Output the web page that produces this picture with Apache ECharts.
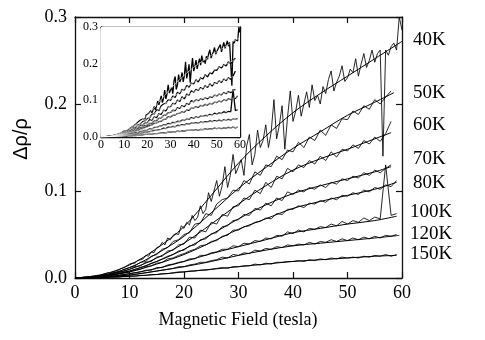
<!DOCTYPE html>
<html>
<head>
<meta charset="utf-8">
<script src="https://cdn.jsdelivr.net/npm/echarts@6/dist/echarts.min.js"></script>
<style>
    html, body { margin: 0; padding: 0; background: #fff; }
    #main { width: 485px; height: 340px; }
</style>
</head>
<body>
<div id="main"></div>
<script>
// temperatures, one curve each
var temps = ["40K", "50K", "60K", "70K", "80K", "100K", "120K", "150K"];

// measured data: 40K every 0.5 T, others every 1 T, starting at 0 T
var step40 = 0.5;
var step = 1;
var data40 = [0, 0.000, 0.000, 0.001, 0.001, 0.001, 0.002, 0.002, 0.003, 0.003, 0.004,
    0.005, 0.006, 0.006, 0.007, 0.008, 0.009, 0.011, 0.012, 0.014, 0.016,
    0.017, 0.017, 0.020, 0.021, 0.022, 0.026, 0.025, 0.030, 0.029, 0.035,
    0.036, 0.041, 0.038, 0.046, 0.044, 0.049, 0.051, 0.050, 0.060, 0.057,
    0.064, 0.061, 0.072, 0.066, 0.070, 0.083, 0.074, 0.079, 0.098, 0.088,
    0.100, 0.112, 0.094, 0.106, 0.128, 0.104, 0.118, 0.142, 0.120, 0.128,
    0.136, 0.118, 0.152, 0.165, 0.130, 0.142, 0.170, 0.150, 0.158, 0.176,
    0.150, 0.168, 0.205, 0.160, 0.176, 0.198, 0.148, 0.185, 0.215, 0.180,
    0.192, 0.210, 0.186, 0.200, 0.214, 0.196, 0.222, 0.204, 0.210, 0.200,
    0.220, 0.212, 0.228, 0.238, 0.215, 0.225, 0.232, 0.244, 0.226, 0.230,
    0.240, 0.236, 0.252, 0.232, 0.246, 0.258, 0.242, 0.250, 0.262, 0.248,
    0.258, 0.262, 0.140, 0.262, 0.256, 0.266, 0.270, 0.262, 0.300, 0.285];
var data50 = [0, 0.000, 0.000, 0.001, 0.002, 0.003, 0.004, 0.006, 0.007, 0.010,
    0.012, 0.014, 0.018, 0.019, 0.025, 0.027, 0.033, 0.035, 0.042, 0.044,
    0.050, 0.052, 0.062, 0.063, 0.074, 0.072, 0.085, 0.090, 0.092, 0.101,
    0.100, 0.112, 0.108, 0.122, 0.118, 0.130, 0.128, 0.140, 0.136, 0.147,
    0.145, 0.156, 0.150, 0.162, 0.158, 0.170, 0.164, 0.176, 0.172, 0.183,
    0.182, 0.192, 0.188, 0.198, 0.194, 0.205, 0.200, 0.208, 0.215];
var data60 = [0, 0, 0.000, 0.001, 0.002, 0.003, 0.004, 0.005, 0.006, 0.008,
    0.010, 0.013, 0.014, 0.018, 0.019, 0.024, 0.025, 0.031, 0.032, 0.038,
    0.039, 0.047, 0.046, 0.055, 0.053, 0.064, 0.062, 0.073, 0.071, 0.082,
    0.083, 0.092, 0.090, 0.101, 0.097, 0.110, 0.104, 0.117, 0.114, 0.126,
    0.122, 0.130, 0.127, 0.135, 0.131, 0.140, 0.135, 0.145, 0.139, 0.148,
    0.146, 0.153, 0.149, 0.158, 0.154, 0.162, 0.157, 0.166, 0.180];
var data70 = [0, 0, 0.000, 0.001, 0.001, 0.002, 0.003, 0.004, 0.005, 0.007,
    0.008, 0.010, 0.012, 0.014, 0.017, 0.019, 0.022, 0.025, 0.027, 0.031,
    0.032, 0.037, 0.038, 0.044, 0.045, 0.051, 0.052, 0.059, 0.060, 0.066,
    0.067, 0.073, 0.072, 0.080, 0.078, 0.086, 0.083, 0.092, 0.089, 0.099,
    0.096, 0.101, 0.099, 0.104, 0.102, 0.107, 0.104, 0.110, 0.108, 0.114,
    0.112, 0.117, 0.115, 0.121, 0.118, 0.124, 0.121, 0.126, 0.130];
var data80 = [0, 0, 0.000, 0.001, 0.001, 0.002, 0.002, 0.003, 0.005, 0.006,
    0.007, 0.009, 0.010, 0.013, 0.014, 0.017, 0.018, 0.022, 0.023, 0.026,
    0.028, 0.031, 0.033, 0.037, 0.038, 0.042, 0.043, 0.048, 0.049, 0.055,
    0.055, 0.059, 0.060, 0.064, 0.065, 0.069, 0.068, 0.074, 0.073, 0.079,
    0.079, 0.083, 0.081, 0.086, 0.085, 0.089, 0.087, 0.092, 0.090, 0.095,
    0.094, 0.098, 0.096, 0.101, 0.099, 0.104, 0.102, 0.107, 0.105, 0.112];
var data100 = [0, 0, 0.000, 0.000, 0.001, 0.001, 0.002, 0.002, 0.003, 0.004,
    0.005, 0.006, 0.007, 0.009, 0.009, 0.012, 0.012, 0.015, 0.016, 0.018,
    0.019, 0.022, 0.022, 0.026, 0.026, 0.029, 0.030, 0.033, 0.033, 0.037,
    0.036, 0.040, 0.039, 0.043, 0.042, 0.046, 0.045, 0.049, 0.048, 0.053,
    0.051, 0.055, 0.053, 0.057, 0.056, 0.059, 0.058, 0.062, 0.060, 0.065,
    0.062, 0.066, 0.064, 0.069, 0.066, 0.070, 0.068, 0.130, 0.072, 0.074];
var data120 = [0, 0, 0.000, 0.000, 0.000, 0.001, 0.001, 0.002, 0.002, 0.003,
    0.003, 0.004, 0.005, 0.006, 0.007, 0.008, 0.009, 0.010, 0.011, 0.013,
    0.013, 0.015, 0.016, 0.018, 0.018, 0.020, 0.021, 0.024, 0.023, 0.027,
    0.026, 0.029, 0.028, 0.032, 0.031, 0.034, 0.033, 0.036, 0.035, 0.038,
    0.037, 0.039, 0.038, 0.041, 0.039, 0.042, 0.041, 0.044, 0.042, 0.045,
    0.043, 0.046, 0.044, 0.047, 0.045, 0.048, 0.046, 0.049, 0.048, 0.050];
var data150 = [0, 0, 0, 0, 0, 0.000, 0.001, 0.001, 0.001, 0.002,
    0.002, 0.002, 0.003, 0.003, 0.004, 0.004, 0.005, 0.005, 0.006, 0.007,
    0.007, 0.008, 0.008, 0.009, 0.009, 0.010, 0.011, 0.012, 0.011, 0.013,
    0.013, 0.014, 0.014, 0.016, 0.015, 0.017, 0.016, 0.018, 0.018, 0.019,
    0.019, 0.020, 0.019, 0.021, 0.020, 0.022, 0.021, 0.023, 0.022, 0.024,
    0.023, 0.024, 0.023, 0.025, 0.024, 0.026, 0.025, 0.027, 0.025, 0.027];

// fitted curves, sampled at fitField plus one end point each
var fitField = [0, 5, 10, 15, 20, 25, 30, 35, 40, 45, 50, 55];
var fit40 = [0, 0.004, 0.015, 0.034, 0.059, 0.095, 0.132, 0.163, 0.190, 0.212, 0.232, 0.252];
var fit50 = [0, 0.003, 0.012, 0.028, 0.048, 0.075, 0.103, 0.127, 0.149, 0.168, 0.187, 0.202];
var fit60 = [0, 0.003, 0.010, 0.023, 0.040, 0.062, 0.085, 0.106, 0.124, 0.137, 0.148, 0.160];
var fit70 = [0, 0.002, 0.008, 0.019, 0.033, 0.050, 0.068, 0.084, 0.097, 0.106, 0.114, 0.122];
var fit80 = [0, 0.002, 0.007, 0.016, 0.027, 0.041, 0.056, 0.068, 0.080, 0.088, 0.095, 0.102];
var fit100 = [0, 0.001, 0.005, 0.011, 0.019, 0.028, 0.036, 0.044, 0.052, 0.057, 0.062, 0.066];
var fit120 = [0, 0.001, 0.0035, 0.008, 0.013, 0.019, 0.026, 0.032, 0.037, 0.040, 0.043, 0.046];
var fit150 = [0, 0.0005, 0.002, 0.004, 0.007, 0.010, 0.013, 0.016, 0.019, 0.021, 0.023, 0.025];
var fitEndField = [60, 58.5, 58, 58, 59, 59, 59.5, 59];
var fitEndValue = [0.272, 0.213, 0.167, 0.128, 0.110, 0.071, 0.049, 0.026];

// tick labels
var xTicks = [0, 10, 20, 30, 40, 50, 60];
var yTicks = [0.0, 0.1, 0.2, 0.3];

var dataList = [data40, data50, data60, data70, data80, data100, data120, data150];
var stepList = [step40, step, step, step, step, step, step, step];
var fitList = [fit40, fit50, fit60, fit70, fit80, fit100, fit120, fit150];

var serif = "Liberation Serif";

function toPairs(values, dx) {
    var result = [];
    for (var i = 0; i < values.length; i++) {
        result.push([i * dx, values[i]]);
    }
    return result;
}

function fitPairs(k) {
    var result = [];
    for (var i = 0; i < fitField.length; i++) {
        result.push([fitField[i], fitList[k][i]]);
    }
    result.push([fitEndField[k], fitEndValue[k]]);
    return result;
}

// serif tick labels through rich text
function tickLabel(show, fontSize, margin, digits) {
    return {
        show: show,
        margin: margin,
        formatter: function(v) {
            return '{t|' + (digits ? v.toFixed(digits) : v) + '}';
        },
        rich: {
            t: {fontFamily: serif, fontSize: fontSize, color: '#000'}
        }
    };
}

function makeX(gridIndex, pos, showLabel, fontSize, tickLen) {
    return {
        type: 'value',
        gridIndex: gridIndex,
        position: pos,
        min: xTicks[0],
        max: xTicks[xTicks.length - 1],
        interval: 10,
        axisLine: {show: true, onZero: false, lineStyle: {color: '#111', width: 1.3}},
        axisTick: {show: true, inside: true, length: tickLen, lineStyle: {color: '#111', width: 1.2}},
        axisLabel: tickLabel(showLabel, fontSize, gridIndex == 0 ? 6 : 2, 0),
        splitLine: {show: false}
    };
}

function makeY(gridIndex, pos, showLabel, fontSize, tickLen) {
    return {
        type: 'value',
        gridIndex: gridIndex,
        position: pos,
        min: yTicks[0],
        max: yTicks[yTicks.length - 1],
        interval: 0.1,
        axisLine: {show: true, onZero: false, lineStyle: {color: '#111', width: 1.3}},
        axisTick: {show: true, inside: true, length: tickLen, lineStyle: {color: '#111', width: 1.2}},
        axisLabel: tickLabel(showLabel, fontSize, gridIndex == 0 ? 8 : 3, 1),
        splitLine: {show: false}
    };
}

var series = [];
for (var k = 0; k < temps.length; k++) {
    // main plot
    series.push({
        name: temps[k], type: 'line', xAxisIndex: 0, yAxisIndex: 0,
        data: toPairs(dataList[k], stepList[k]), showSymbol: false,
        lineStyle: {color: '#000', width: 0.85}, z: 2
    });
    series.push({
        name: temps[k] + ' fit', type: 'line', xAxisIndex: 0, yAxisIndex: 0,
        data: fitPairs(k), showSymbol: false, smooth: 0.35,
        lineStyle: {color: '#000', width: 1}, z: 3
    });
    // inset
    series.push({
        name: temps[k] + ' inset', type: 'line', xAxisIndex: 2, yAxisIndex: 2,
        data: toPairs(dataList[k], stepList[k]), showSymbol: false,
        lineStyle: {color: '#000', width: 1.3}, z: 5
    });
    series.push({
        name: temps[k] + ' inset fit', type: 'line', xAxisIndex: 2, yAxisIndex: 2,
        data: fitPairs(k), showSymbol: false, smooth: 0.35,
        lineStyle: {color: '#fff', width: 0.6}, z: 6
    });
}

// temperature labels at the right
var labelY = [42, 95, 127, 161, 185, 214, 236, 256];
var graphics = [];
for (var j = 0; j < temps.length; j++) {
    graphics.push({
        type: 'text', left: j < 5 ? 413 : 410, top: labelY[j] - 11,
        style: {text: temps[j], fill: '#000', font: '19px "Liberation Serif"'}
    });
}
graphics.push({
    type: 'text', x: 21, y: 139, rotation: Math.PI / 2,
    style: {text: 'Δρ/ρ', fill: '#000', font: '20px "Liberation Sans"', textAlign: 'center', textVerticalAlign: 'middle'}
});
graphics.push({
    type: 'text', x: 238, y: 320,
    style: {text: 'Magnetic Field (tesla)', fill: '#000', font: '18px "Liberation Serif"', textAlign: 'center', textVerticalAlign: 'middle'}
});

var myChart = echarts.init(document.getElementById('main'), null, {renderer: 'canvas'});
myChart.setOption({
    animation: false,
    backgroundColor: '#fff',
    grid: [
        {left: 75, top: 17, width: 327, height: 261},
        {left: 101, top: 27, width: 139, height: 110, show: true, backgroundColor: '#fff', borderWidth: 0, z: 4}
    ],
    xAxis: [
        makeX(0, 'bottom', true, 18, 6),
        makeX(0, 'top', false, 18, 6),
        makeX(1, 'bottom', true, 12, 3),
        makeX(1, 'top', false, 12, 3)
    ],
    yAxis: [
        makeY(0, 'left', true, 18, 6),
        makeY(0, 'right', false, 18, 6),
        makeY(1, 'left', true, 12, 3),
        makeY(1, 'right', false, 12, 3)
    ],
    series: series,
    graphic: graphics
});
</script>
</body>
</html>
